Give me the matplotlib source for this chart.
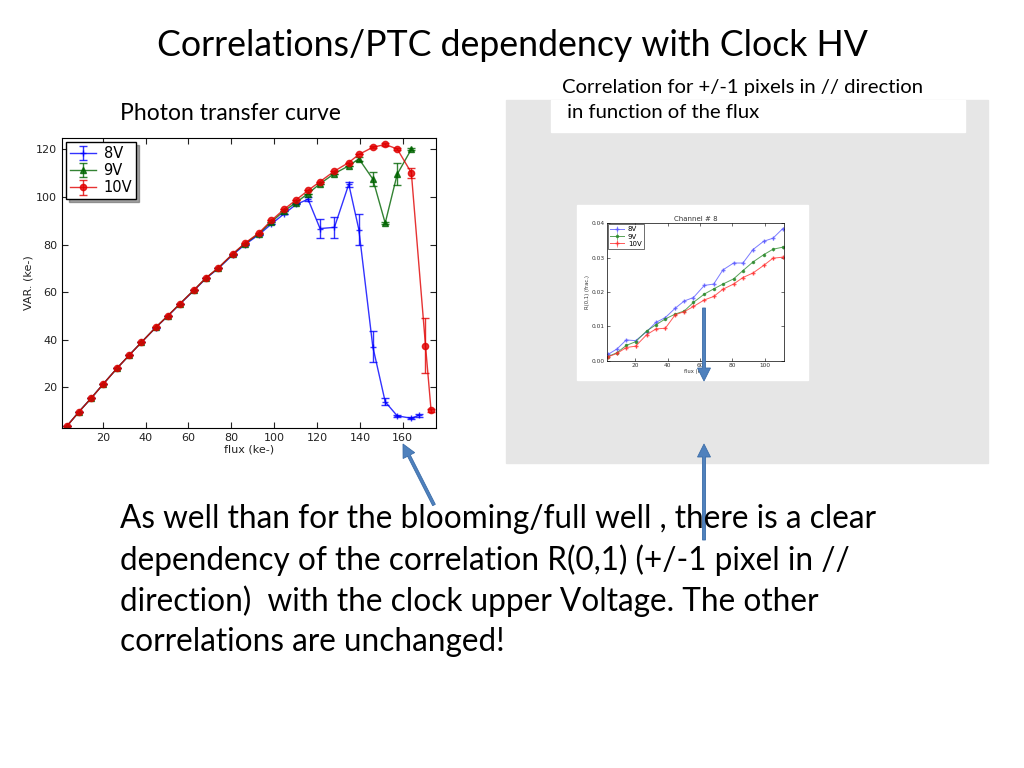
import matplotlib
matplotlib.use("Agg")
import matplotlib.pyplot as plt
from matplotlib.patches import Rectangle, FancyArrow

# ---- photon transfer curve data (flux ke-, variance ke-)
flux_8v = [3.4, 9.0, 14.6, 20.2, 26.7, 32.4, 38.0, 44.7, 50.5, 56.1, 62.8, 68.2,
           74.0, 80.7, 86.4, 92.8, 98.7, 104.5, 110.2, 115.8, 121.4, 128.1, 134.8,
           139.5, 146.0, 151.8, 157.4, 164.0, 167.5]
var_8v = [3.9, 9.9, 15.5, 21.4, 28.1, 33.6, 38.9, 45.1, 50.1, 55.1, 60.9, 65.8,
          70.0, 75.7, 80.0, 84.1, 88.6, 92.8, 96.8, 99.0, 86.7, 87.2, 105.3,
          86.3, 37.2, 14.0, 8.1, 7.1, 8.3]
err_8v = [0, 0, 0, 0, 0, 0, 0, 0, 0, 0, 0, 0, 0, 0, 0, 0, 0, 0, 0, 0.8, 4.0,
          4.5, 1.0, 6.5, 6.5, 1.5, 0.5, 0.5, 0.5]

flux_9v = [3.4, 9.0, 14.6, 20.2, 26.7, 32.4, 38.0, 44.7, 50.5, 56.1, 62.8, 68.2,
           74.0, 80.7, 86.4, 92.8, 98.7, 104.5, 110.2, 115.8, 121.4, 128.1, 134.8,
           139.5, 146.0, 151.8, 157.4, 164.0]
var_9v = [3.9, 9.9, 15.5, 21.4, 28.1, 33.6, 38.9, 45.2, 50.2, 55.2, 61.1, 66.0,
          70.2, 76.0, 80.4, 84.5, 89.5, 94.0, 97.6, 101.4, 105.5, 109.8, 113.0,
          116.0, 107.5, 89.0, 109.5, 120.0]
err_9v = [0, 0, 0, 0, 0, 0, 0, 0, 0, 0, 0, 0, 0, 0, 0, 0, 0, 0, 0, 0, 0, 0, 0,
          0.8, 2.8, 0.5, 4.5, 0.5]

flux_10v = [3.4, 9.0, 14.6, 20.2, 26.7, 32.4, 38.0, 44.7, 50.5, 56.1, 62.8, 68.2,
            74.0, 80.7, 86.4, 92.8, 98.7, 104.5, 110.2, 115.8, 121.4, 128.1, 134.8,
            139.5, 146.0, 151.8, 157.4, 164.0, 170.6, 173.2]
var_10v = [3.9, 9.9, 15.5, 21.4, 28.1, 33.6, 38.9, 45.2, 50.2, 55.2, 61.1, 66.0,
           70.3, 76.1, 80.6, 84.8, 90.1, 94.7, 98.7, 102.7, 106.4, 110.8, 114.4,
           117.8, 120.8, 122.0, 120.1, 110.1, 37.6, 10.4]
err_10v = [0, 0, 0, 0, 0, 0, 0, 0, 0, 0, 0, 0, 0, 0, 0, 0, 0, 0, 0, 0, 0, 0, 0,
           0, 0.5, 0.5, 0.5, 2.0, 11.5, 0.5]

# ---- R(0,1) correlation vs flux, channel 8
flux_corr = [3.1, 8.7, 14.4, 20.2, 27.0, 32.8, 38.6, 44.7, 50.3, 56.0, 62.7, 68.5,
             74.2, 80.8, 86.6, 92.8, 99.4, 105.2, 111.3]
corr_8v = [0.0019, 0.0035, 0.0061, 0.0059, 0.0085, 0.0112, 0.0126, 0.0153, 0.0174,
           0.0184, 0.0219, 0.0223, 0.0264, 0.0284, 0.0284, 0.0323, 0.0347, 0.0356,
           0.0384]
corr_9v = [0.0013, 0.0024, 0.0045, 0.0056, 0.0087, 0.0105, 0.0122, 0.0136, 0.0145,
           0.0170, 0.0194, 0.0209, 0.0223, 0.0238, 0.0262, 0.0287, 0.0308, 0.0324,
           0.0330]
corr_10v = [0.0012, 0.0022, 0.0039, 0.0043, 0.0076, 0.0093, 0.0095, 0.0134, 0.0143,
            0.0158, 0.0177, 0.0187, 0.0208, 0.0223, 0.0242, 0.0255, 0.0277, 0.0298,
            0.0301]

labels = ["8V", "9V", "10V"]
colors = ["#0000ff", "#006400", "#e00000"]
markers = ["+", "^", "o"]

TXT = ["Lato", "DejaVu Sans"]
W, H = 1024, 768

fig = plt.figure(figsize=(10.24, 7.68), dpi=100)

# background layer in pixel coords
bg = fig.add_axes([0, 0, 1, 1], zorder=0)
bg.set_xlim(0, W)
bg.set_ylim(H, 0)
bg.axis("off")
bg.add_patch(Rectangle((506, 100), 482, 363, color="#e6e6e6"))
bg.add_patch(Rectangle((577, 205), 231, 175, color="white"))
bg.add_patch(Rectangle((551, 100), 414, 32, color="white"))

plt.rcParams["xtick.direction"] = "in"
plt.rcParams["ytick.direction"] = "in"

# ---- left: photon transfer curve
ax = fig.add_axes([62 / W, 1 - 428 / H, 374 / W, 290 / H], zorder=1)
series = [(flux_8v, var_8v, err_8v), (flux_9v, var_9v, err_9v),
          (flux_10v, var_10v, err_10v)]
for (fx, vy, ey), lab, c, m in zip(series, labels, colors, markers):
    ax.errorbar(fx, vy, yerr=ey, color=c, marker=m, markersize=4.5 if m != "+" else 5,
                lw=1, capsize=3, elinewidth=1, alpha=0.8, label=lab)
ax.set_xlim(1, 175.5)
ax.set_ylim(3, 124.7)
ax.set_xticks([20, 40, 60, 80, 100, 120, 140, 160])
ax.set_yticks([20, 40, 60, 80, 100, 120])
ax.tick_params(labelsize=8, colors="#222222", top=True, right=True, length=4)
ax.set_xlabel("flux (ke-)", fontsize=8, labelpad=1, color="#222222")
ax.set_ylabel("VAR. (ke-)", fontsize=8, labelpad=2, color="#222222")
leg = ax.legend(loc="upper left", fontsize=10.5, shadow=True, fancybox=False,
                handlelength=1.8, borderpad=0.25, labelspacing=0.15,
                borderaxespad=0.3, handletextpad=0.5)
leg.get_frame().set_edgecolor("black")

# ---- right: correlation chart
ax2 = fig.add_axes([607 / W, 1 - 361 / H, 177 / W, 138 / H], zorder=1)
for cy, lab, c, m in zip([corr_8v, corr_9v, corr_10v], labels,
                         ["#5a5aff", "#2e8b2e", "#ff3030"], ["+", ".", "+"]):
    ax2.errorbar(flux_corr, cy, yerr=0.0004, color=c, marker=m, markersize=3,
                 lw=0.7, elinewidth=0.5, alpha=0.8, label=lab)
ax2.set_xlim(2.5, 112)
ax2.set_ylim(0, 0.04)
ax2.set_xticks([20, 40, 60, 80, 100])
ax2.set_yticks([0.0, 0.01, 0.02, 0.03, 0.04])
ax2.set_yticklabels(["0.00", "0.01", "0.02", "0.03", "0.04"])
ax2.tick_params(labelsize=4.2, length=2, width=0.5, top=True, right=True, pad=1.5,
                colors="#333333")
for s in ax2.spines.values():
    s.set_linewidth(0.5)
ax2.set_title("Channel # 8", fontsize=5, pad=1.5, color="#333333")
ax2.set_xlabel("flux (ke-)", fontsize=3.8, labelpad=0.5, color="#333333")
ax2.set_ylabel("R(0,1) (frac.)", fontsize=3.8, labelpad=1, color="#333333")
leg2 = ax2.legend(loc="upper left", fontsize=5, fancybox=False, handlelength=2.0,
                  borderpad=0.3, labelspacing=0.15, borderaxespad=0.2,
                  handletextpad=0.5)
leg2.get_frame().set_edgecolor("black")
leg2.get_frame().set_linewidth(0.5)

# ---- overlay: slide texts and arrows
top = fig.add_axes([0, 0, 1, 1], zorder=3)
top.set_xlim(0, W)
top.set_ylim(H, 0)
top.axis("off")
top.patch.set_alpha(0)

top.text(512, 45, "Correlations/PTC dependency with Clock HV", fontsize=25.7,
         family=TXT, ha="center", va="center")
top.text(120, 114, "Photon transfer curve", fontsize=16.5, family=TXT,
         va="center")
top.text(562, 87, "Correlation for +/-1 pixels in // direction", fontsize=14.6,
         family=TXT, va="center")
top.text(562, 113, " in function of the flux", fontsize=14.6, family=TXT,
         va="center")

body = ["As well than for the blooming/full well , there is a clear",
        "dependency of the correlation R(0,1) (+/-1 pixel in //",
        "direction)  with the clock upper Voltage. The other",
        "correlations are unchanged!"]
for i, line in enumerate(body):
    top.text(120, 519 + i * 41, line, fontsize=22.7, family=TXT, va="center")

acol = "#4f81bd"
arrows = [(434, 505, 403, 444), (704, 540, 704, 444), (704, 308, 704, 381)]
for x0, y0, x1, y1 in arrows:
    top.add_patch(FancyArrow(x0, y0, x1 - x0, y1 - y0, width=3, head_width=13,
                             head_length=13, length_includes_head=True,
                             color=acol, ec="#3a6ca8", lw=0.6))

fig.savefig("out.png", dpi=100)
